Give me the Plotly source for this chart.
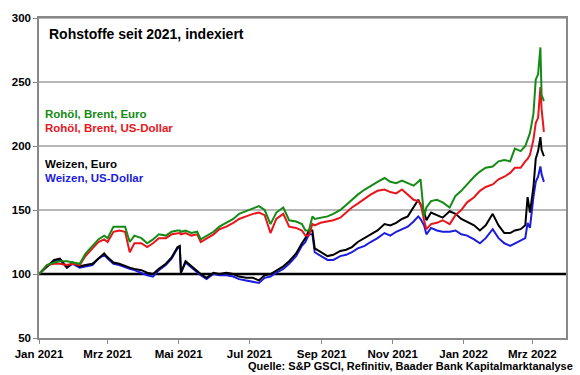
import plotly.graph_objects as go

dates = ["2021-01-01","2021-01-08","2021-01-14","2021-01-19","2021-01-25","2021-01-30","2021-02-05","2021-02-10",
         "2021-02-16","2021-02-21","2021-02-26","2021-03-01","2021-03-06","2021-03-11","2021-03-16","2021-03-20",
         "2021-03-24","2021-03-30","2021-04-04","2021-04-09","2021-04-14","2021-04-20","2021-04-25","2021-04-30",
         "2021-05-02","2021-05-03","2021-05-07","2021-05-12","2021-05-17","2021-05-20","2021-05-25","2021-05-31",
         "2021-06-05","2021-06-11","2021-06-17","2021-06-22","2021-06-28","2021-07-04","2021-07-09","2021-07-14",
         "2021-07-19","2021-07-24","2021-07-30","2021-08-04","2021-08-10","2021-08-15","2021-08-18","2021-08-21",
         "2021-08-24","2021-08-26","2021-08-31","2021-09-06","2021-09-11","2021-09-17","2021-09-22","2021-09-27",
         "2021-10-02","2021-10-08","2021-10-13","2021-10-19","2021-10-25","2021-10-30","2021-11-04","2021-11-09",
         "2021-11-14","2021-11-19","2021-11-23","2021-11-25","2021-11-28","2021-11-30","2021-12-04","2021-12-09",
         "2021-12-14","2021-12-20","2021-12-25","2021-12-30","2022-01-04","2022-01-10","2022-01-15","2022-01-20",
         "2022-01-26","2022-01-31","2022-02-05","2022-02-10","2022-02-14","2022-02-19","2022-02-23","2022-02-25",
         "2022-02-27","2022-03-02","2022-03-04","2022-03-06","2022-03-08","2022-03-09","2022-03-11"]

brent_eur = [100,107,109,110,110,109,108,116,122,127,130,128,137,137,137,125,130,128,124,127,131,130,133,134,
             134,133,134,132,133,127,130,133,137,140,143,147,149,151,153,150,139,148,152,142,141,139,134,134,
             145,143,144,145,147,150,154,158,162,166,169,172,175,172,171,173,171,169,172,174,145,152,157,158,
             156,152,161,165,170,176,180,183,184,188,189,188,198,196,200,206,210,225,252,256,277,240,235]

brent_usd = [100,107,108,108,107,108,107,114,120,125,127,125,133,134,133,117,124,124,121,124,128,128,131,132,
             132,131,132,130,131,125,128,131,135,137,140,143,145,147,148,146,132,143,147,137,136,134,130,130,
             139,138,140,141,142,144,148,152,155,159,162,165,166,164,163,166,162,158,157,155,142,135,139,140,
             142,139,146,150,156,160,165,168,170,174,176,179,183,183,188,190,193,205,218,222,246,229,211]

weizen_eur = [100,106,111,112,105,109,106,107,108,112,116,113,109,108,106,105,104,103,101,100,104,108,113,121,
              122,101,110,106,102,100,97,101,100,101,100,98,97,97,95,99,100,103,106,110,116,124,128,134,
              134,120,117,114,115,118,119,121,125,128,131,134,139,138,140,143,145,152,158,154,149,142,148,146,
              144,149,147,143,141,138,134,138,147,138,132,132,134,135,138,160,148,168,190,196,207,197,192]

weizen_usd = [100,106,110,111,105,108,105,106,107,112,115,112,108,107,105,104,103,101,99,98,103,107,112,120,
              121,101,109,105,101,99,96,100,99,99,98,96,95,94,93,97,98,101,104,108,114,122,125,131,
              131,117,114,111,111,114,115,117,120,122,125,128,132,130,133,135,137,141,145,143,138,131,136,134,
              133,133,134,131,130,127,124,128,135,128,124,122,124,126,128,140,136,160,172,176,184,178,172]

tick_vals = ["2021-01-01","2021-03-01","2021-05-01","2021-07-01","2021-09-01","2021-11-01","2022-01-01","2022-03-01"]
tick_text = ["Jan 2021","Mrz 2021","Mai 2021","Jul 2021","Sep 2021","Nov 2021","Jan 2022","Mrz 2022"]
y_ticks = [50, 100, 150, 200, 250, 300]
base_level = 100

series_names = ["Rohöl, Brent, Euro", "Rohöl, Brent, US-Dollar", "Weizen, Euro", "Weizen, US-Dollar"]
colors = ["#158a15", "#e8161c", "#000000", "#1c1cdc"]

FONT = "Liberation Sans, Arial, sans-serif"

fig = go.Figure()
for vals, name, col in zip([brent_eur, brent_usd, weizen_eur, weizen_usd][::-1], series_names[::-1], colors[::-1]):
    fig.add_trace(go.Scatter(x=dates, y=vals, mode="lines", name=name,
                             line=dict(color=col, width=2), showlegend=False))

# horizontal grid lines (gray) and the base line at 100 (black)
for yv in y_ticks[1:]:
    if yv == base_level:
        fig.add_shape(type="line", xref="paper", x0=0, x1=1, yref="y", y0=yv, y1=yv,
                      line=dict(color="black", width=2.5), layer="below")
    else:
        fig.add_shape(type="line", xref="paper", x0=0, x1=1, yref="y", y0=yv, y1=yv,
                      line=dict(color="#a0a0a0", width=1.5), layer="below")

fig.add_annotation(text="Rohstoffe seit 2021, indexiert", xref="paper", yref="paper", x=0.015, y=0.95,
                   xanchor="left", yanchor="middle", showarrow=False,
                   font=dict(family=FONT, size=14, color="black", weight="bold"))

legend_y = [0.699, 0.655, 0.543, 0.500]
for name, col, ly in zip(series_names, colors, legend_y):
    fig.add_annotation(text=name, xref="paper", yref="paper", x=0.007, y=ly,
                       xanchor="left", yanchor="middle", showarrow=False,
                       font=dict(family=FONT, size=11.5, color=col, weight="bold"))

fig.add_annotation(text="Quelle: S&P GSCI, Refinitiv, Baader Bank Kapitalmarktanalyse",
                   xref="paper", yref="paper", x=1.017, y=-0.087, xanchor="right", yanchor="middle",
                   showarrow=False, font=dict(family=FONT, size=11, color="black", weight="bold"))

fig.update_layout(
    width=580, height=375,
    margin=dict(l=37, r=12, t=16, b=37),
    plot_bgcolor="white", paper_bgcolor="white",
    showlegend=False,
    xaxis=dict(range=["2021-01-01", "2022-03-30"], tickvals=tick_vals, ticktext=tick_text,
               showgrid=False, showline=True, linecolor="#888888", linewidth=1.5, mirror=True,
               ticks="outside", ticklen=4, tickcolor="#888888",
               tickfont=dict(family=FONT, size=11.5, color="black", weight="bold"), zeroline=False),
    yaxis=dict(range=[50, 300], tickvals=y_ticks, showgrid=False,
               showline=True, linecolor="#888888", linewidth=1.5, mirror=True,
               ticks="outside", ticklen=4, tickcolor="#888888",
               tickfont=dict(family=FONT, size=11.5, color="black", weight="bold"), zeroline=False),
)

fig.write_html("out.html", config={"displayModeBar": False},
               post_script="document.body.style.margin='0';document.body.style.overflow='hidden';")
